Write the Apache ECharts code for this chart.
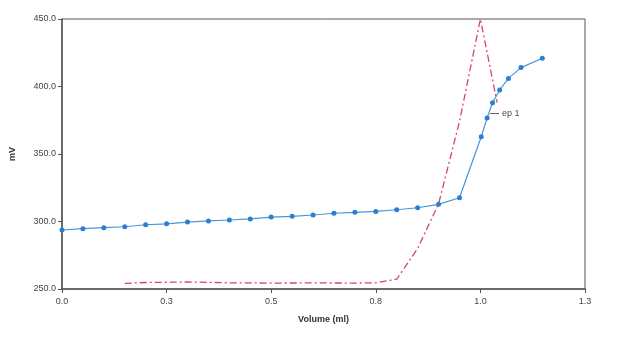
<!DOCTYPE html>
<html><head><meta charset="utf-8">
<script src="https://cdn.jsdelivr.net/npm/echarts@6/dist/echarts.min.js"></script>
<style>html,body{margin:0;padding:0;background:#fff}#c{width:628px;height:341px}</style>
</head><body><div id="c"></div>
<script>
// Titration curve (volume ml, mV)
const volume = [0,0.05,0.10,0.15,0.20,0.25,0.30,0.35,0.40,0.45,0.50,0.55,0.60,0.65,0.70,0.75,0.80,0.85,0.90,0.95,1.002,1.016,1.029,1.046,1.067,1.097,1.148];
const mV = [293.7,294.7,295.4,296.1,297.6,298.3,299.6,300.4,301.1,301.9,303.3,303.8,304.8,306.1,306.8,307.5,308.7,310.2,312.7,317.6,362.8,376.7,388.0,397.4,406.0,414.0,420.9];
// Derivative curve (drawn in mV scale)
const derivVolume = [0.15,0.20,0.30,0.40,0.50,0.60,0.70,0.75,0.80,0.85,0.90,0.95,1.00,1.04];
const derivValue = [254.2,254.8,255.2,254.6,254.4,254.5,254.4,254.6,257.3,280.0,313.0,374.0,450.0,388.0];
// Endpoint
const epVolume = 1.022;
const epMV = 380;
const epLabel = 'ep 1';
// Axes
const xMin = 0, xMax = 1.25, xStep = 0.25;
const yMin = 250, yMax = 450, yStep = 50;
const xName = 'Volume (ml)', yName = 'mV';

const chart = echarts.init(document.getElementById('c'));
const axisCol = '#555';
chart.setOption({
  animation:false,
  backgroundColor:'#fff',
  textStyle:{fontFamily:'Liberation Sans, Arial, sans-serif'},
  grid:{left:60,right:43,top:19,bottom:52,show:true,borderColor:axisCol,borderWidth:1},
  xAxis:{type:'value',min:xMin,max:xMax,interval:xStep,
    name:xName,nameLocation:'middle',nameGap:26,
    nameTextStyle:{fontSize:9,fontWeight:'bold',color:'#333'},
    axisLine:{lineStyle:{color:axisCol,width:1.5}},
    axisTick:{show:true,length:4,lineStyle:{color:axisCol}},
    axisLabel:{fontSize:9,color:'#444',margin:8,formatter:v=>v.toFixed(1)},
    splitLine:{show:false}},
  yAxis:{type:'value',min:yMin,max:yMax,interval:yStep,
    name:yName,nameLocation:'middle',nameGap:45,nameRotate:90,
    nameTextStyle:{fontSize:9,fontWeight:'bold',color:'#333'},
    axisLine:{show:true,lineStyle:{color:axisCol,width:1.5}},
    axisTick:{show:true,length:4,lineStyle:{color:axisCol}},
    axisLabel:{fontSize:9,color:'#444',margin:6,formatter:v=>v.toFixed(1)},
    splitLine:{show:false}},
  series:[
    {type:'line',data:derivVolume.map((v,i)=>[v,derivValue[i]]),symbol:'none',
     lineStyle:{color:'#d4485c',width:1.3,type:[7,3,2,3]},z:2},
    {type:'line',data:volume.map((v,i)=>[v,mV[i]]),symbol:'circle',symbolSize:5,
     itemStyle:{color:'#2a7fd4'},lineStyle:{color:'#4a95d8',width:1.2},z:3},
    {type:'scatter',data:[[epVolume,epMV]],symbol:'rect',symbolSize:[9,1],symbolOffset:[5,0],
     itemStyle:{color:'#333'},
     label:{show:true,position:'right',formatter:epLabel,fontSize:9,color:'#222',distance:3},z:4}
  ]
});
</script></body></html>
